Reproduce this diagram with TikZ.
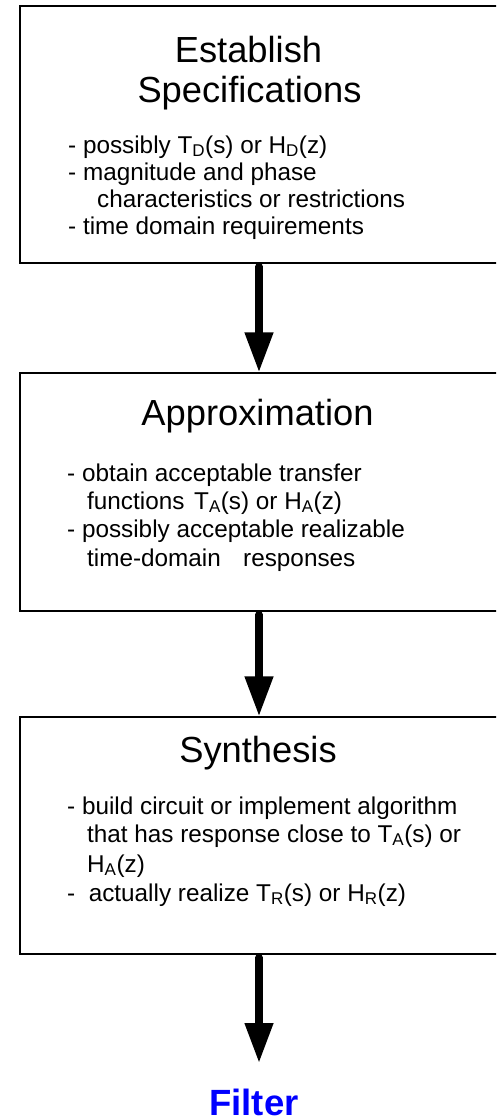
\documentclass[tikz,border=0pt]{standalone}
\usepackage{fontspec}
\setmainfont{Liberation Sans}
\usetikzlibrary{arrows.meta}

\tikzset{
  stage/.style={draw=black, line width=1.3pt, rectangle, inner sep=0pt, fill=white},
  heading/.style={anchor=base, inner sep=0pt, font=\fontsize{36.3}{40}\selectfont},
  item/.style={anchor=base west, inner sep=0pt, font=\fontsize{24.3}{28}\selectfont},
  flow/.style={line width=7.5pt, line cap=round, -{Triangle[length=40pt, width=27pt]}},
  result/.style={anchor=base, inner sep=0pt, text={rgb,255:red,0;green,0;blue,255},
    font=\fontsize{36.5}{40}\bfseries\selectfont}
}

\begin{document}
\begin{tikzpicture}[x=1pt, y=-1pt]
  \useasboundingbox (0,0) rectangle (496,1119);
  \clip (0,0) rectangle (496,1119);

  % the three design stages
  \node[stage, minimum width=478pt, minimum height=257pt] (spec)   at (259,134.5) {};
  \node[stage, minimum width=478pt, minimum height=238pt] (approx) at (259,492)   {};
  \node[stage, minimum width=478pt, minimum height=237pt] (synth)  at (259,835.5) {};

  % Establish Specifications
  \node[heading] (specT1) at (248.5,62)  {Establish};
  \node[heading] (specT2) at (249.5,102) {Specifications};
  \node[item] (specA) at (68,153) {- possibly T\textsubscript{D}(s) or H\textsubscript{D}(z)};
  \node[item] (specB) at (68,180) {- magnitude and phase};
  \node[item] (specC) at (97,207) {characteristics or restrictions};
  \node[item] (specD) at (68,234) {- time domain requirements};

  % Approximation
  \node[heading] (approxT) at (257.5,425) {Approximation};
  \node[item] (approxA) at (67,481) {- obtain acceptable transfer};
  \node[item] (approxB) at (87,509) {functions\hspace{0.4em}T\textsubscript{A}(s) or H\textsubscript{A}(z)};
  \node[item] (approxC) at (67,537) {- possibly acceptable realizable};
  \node[item] (approxD) at (87,566) {time-domain\hspace{0.92em}responses};

  % Synthesis
  \node[heading] (synthT) at (258,762) {Synthesis};
  \node[item] (synthA) at (67,814) {- build circuit or implement algorithm};
  \node[item] (synthB) at (87,842) {that has response close to T\textsubscript{A}(s) or};
  \node[item] (synthC) at (87,872) {H\textsubscript{A}(z)};
  \node[item] (synthD) at (67,901) {-\ \ actually realize T\textsubscript{R}(s) or H\textsubscript{R}(z)};

  % outcome
  \node[result] (filter) at (254,1115) {Filter};
  \coordinate (filterIn) at (259,1063);

  % connectors
  \draw[flow] ([yshift=-3pt]spec.south)   -- (approx.north);
  \draw[flow] ([yshift=-3pt]approx.south) -- (synth.north);
  \draw[flow] ([yshift=-3pt]synth.south)  -- (filterIn);
\end{tikzpicture}
\end{document}
